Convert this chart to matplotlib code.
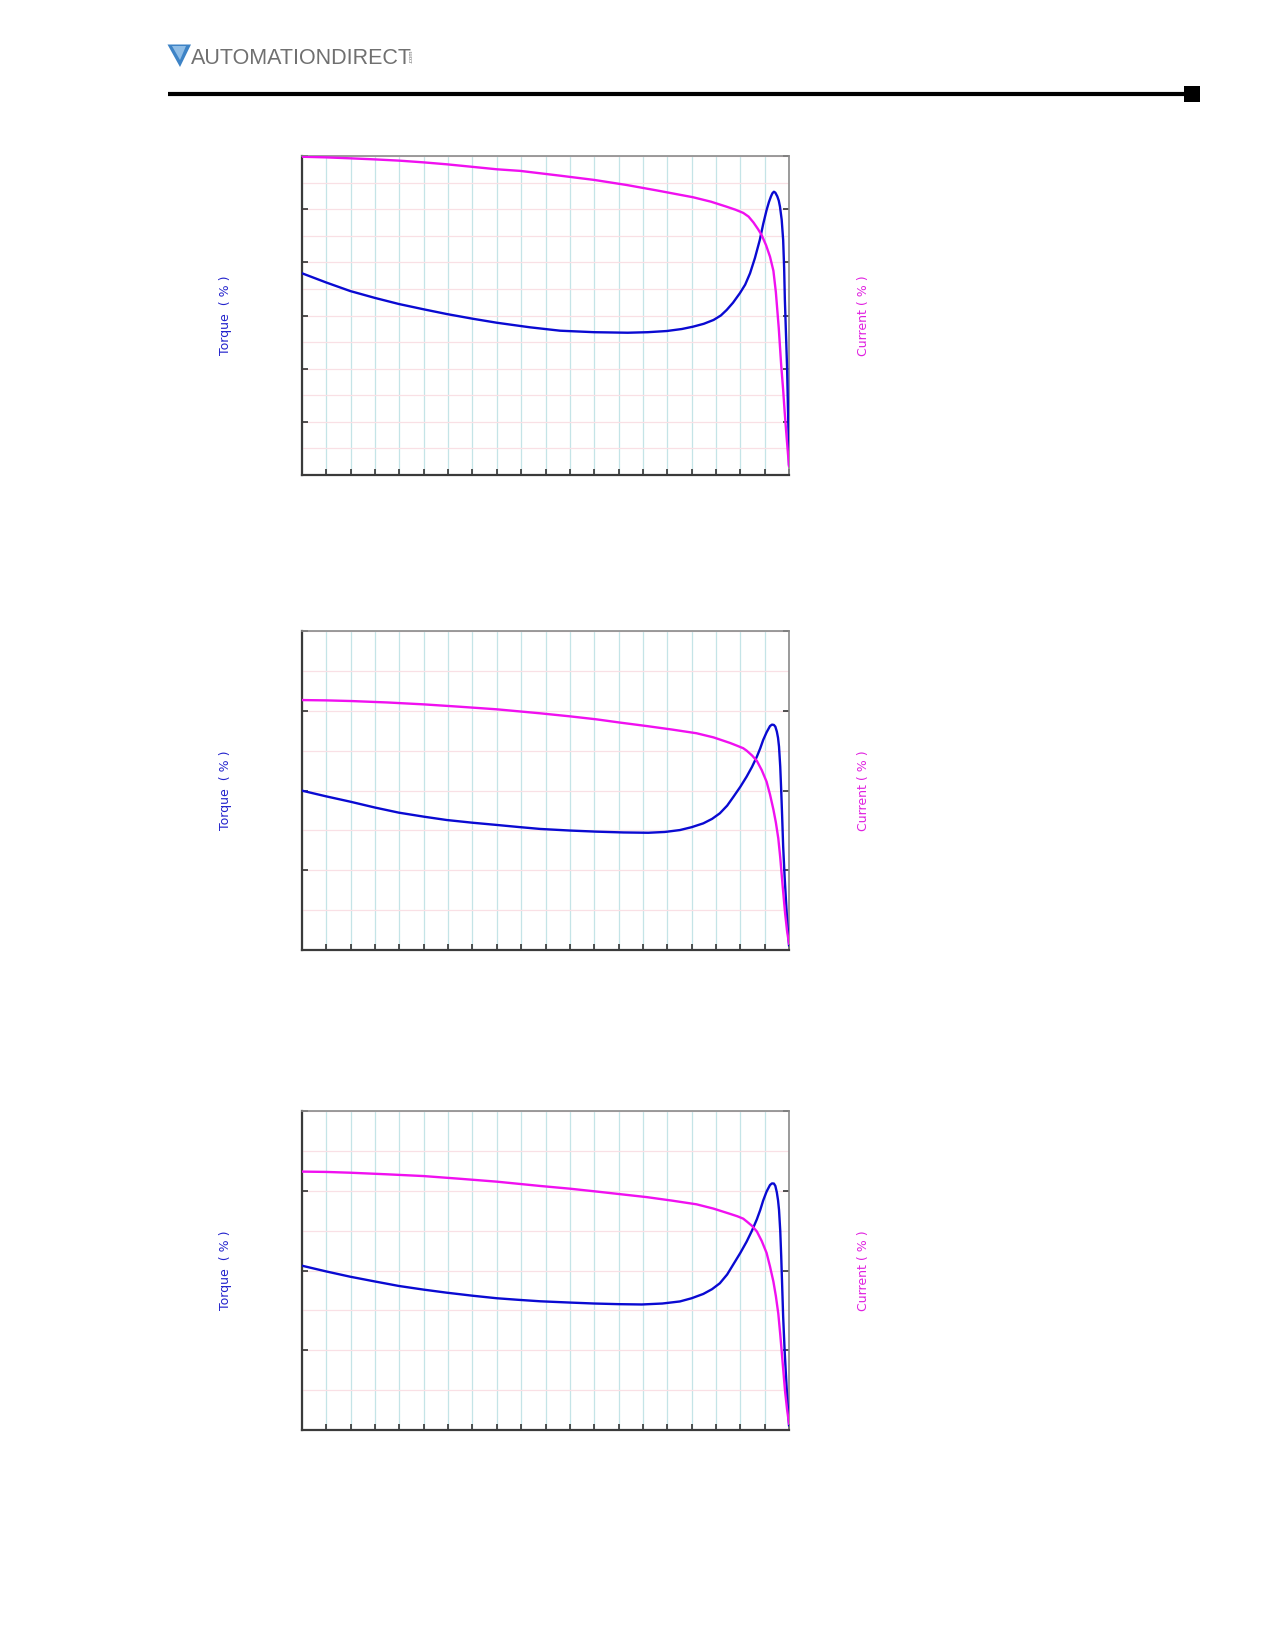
import matplotlib
matplotlib.use("Agg")
import matplotlib.pyplot as plt
from matplotlib.patches import Polygon, Rectangle
from matplotlib.lines import Line2D
import numpy as np

# ---------------- data (speed %, torque %, current %) ----------------
x1_t = [0, 5, 9.9, 15, 19.9, 25, 29.7, 35, 40, 46.8, 53, 60, 66.9, 71, 74.9, 78, 80.3, 82.5,
        84.5, 86, 87.2, 88.5, 89.9, 91.0, 92.0, 93.0, 94.0, 94.7, 95.4, 95.9, 96.3, 96.6,
        96.9, 97.2, 97.6, 97.9, 98.15, 98.5, 98.8, 99.0, 99.15, 99.4, 99.6, 99.8, 99.9, 100]
t1 = [189.7, 181.0, 173.0, 166.5, 160.8, 155.8, 151.4, 147.0, 143.2, 138.9, 135.7, 134.3, 133.8, 134.3,
      135.4, 137.3, 139.5, 142.2, 145.8, 150.0, 155.2, 162.0, 170.9, 179.0, 189.7, 204.0, 221.0, 236.0,
      249.2, 257.0, 262.0, 265.0, 266.4, 265.5, 262.0, 258.0, 252.3, 240.0, 221.0, 195.0, 165.0, 130.0,
      102.0, 60.0, 40.0, 10.0]
x1_c = [0, 5, 10, 15, 20.1, 25, 29.7, 35, 40, 44.8, 53, 60, 66.7, 73, 80.3, 84, 87.2, 89, 90.6,
        91.7, 92.7, 93.6, 94.4, 95.3, 96.1, 96.8, 97.3, 97.9, 98.4, 98.8, 99.1, 99.4, 99.7, 100]
c1 = [299.3, 298.7, 297.8, 296.8, 295.6, 294.0, 292.2, 289.8, 287.5, 286.0, 281.5, 277.5, 272.7, 267.5,
      261.2, 257.0, 252.3, 249.5, 246.5, 243.0, 237.5, 231.5, 225.5, 216.0, 205.3, 192.0, 172.0, 138.0,
      103.0, 80.0, 60.0, 42.0, 25.0, 8.5]

x2_t = [0, 5, 9.9, 15, 19.9, 25, 29.7, 35, 40, 44.5, 48.9, 55, 60.5, 66, 71.1, 74.5, 77.6, 80,
        82.4, 84.2, 85.8, 87.3, 88.6, 90, 91.3, 92.4, 93.4, 94.1, 94.7, 95.4, 96.1, 96.5, 96.9,
        97.2, 97.5, 97.75, 97.95, 98.2, 98.4, 98.6, 98.8, 99.1, 99.4, 99.7, 100]
t2 = [99.9, 96.3, 93.0, 89.3, 86.1, 83.6, 81.5, 79.8, 78.4, 77.1, 75.9, 74.9, 74.2, 73.7, 73.5, 74.0,
      75.2, 77.0, 79.4, 82.2, 85.7, 90.5, 96.1, 102.3, 108.7, 114.8, 121.2, 126.5, 131.7, 136.5, 140.4,
      141.3, 141.1, 140.0, 137.0, 133.0, 127.5, 115.0, 100.0, 83.0, 65.0, 46.0, 30.0, 15.0, 3.0]
x2_c = [0, 5, 10, 17.5, 25, 32.5, 40, 48.9, 55, 60.5, 65.5, 70.8, 76, 81.0, 84.5, 87.9, 89.4, 90.6,
        91.3, 92.4, 93.4, 94.4, 95.4, 96.1, 96.8, 97.3, 97.8, 98.2, 98.7, 99.2, 99.6, 100]
c2 = [156.7, 156.5, 156.1, 155.2, 154.0, 152.5, 150.9, 148.4, 146.5, 144.6, 142.5, 140.4, 138.2, 135.9,
      133.3, 129.8, 128.0, 126.5, 125.0, 122.0, 118.6, 112.8, 105.5, 97.5, 88.0, 80.0, 70.0, 58.0, 40.0,
      23.0, 12.0, 4.0]

x3_t = [0, 5, 9.9, 15, 19.9, 25, 29.7, 35, 40, 44.5, 48.9, 55, 60, 65, 69.8, 74, 77.6, 80, 82.4,
        84.2, 85.8, 87.3, 88.6, 90, 91.3, 92.4, 93.4, 94.1, 94.7, 95.4, 96.1, 96.5, 96.9, 97.2, 97.5,
        97.75, 97.95, 98.2, 98.4, 98.6, 98.8, 99.1, 99.4, 99.7, 100]
t3 = [103.0, 99.4, 96.1, 93.1, 90.3, 88.0, 86.1, 84.2, 82.6, 81.6, 80.7, 79.9, 79.3, 78.9, 78.7, 79.3,
      80.6, 82.6, 85.3, 88.3, 92.0, 97.5, 104.0, 111.0, 118.1, 125.0, 132.1, 138.0, 143.9, 149.5, 153.6,
      154.6, 154.5, 153.0, 149.0, 144.0, 138.0, 125.0, 109.0, 90.0, 71.0, 50.0, 33.0, 17.0, 3.0]
x3_c = [0, 5, 10, 17.5, 25, 32.5, 40, 48.9, 55, 60.5, 65.5, 70.8, 76, 81.0, 84.5, 87.9, 89.4, 90.6,
        91.3, 92.4, 93.4, 94.4, 95.4, 96.1, 96.8, 97.3, 97.8, 98.2, 98.7, 99.2, 99.6, 100]
c3 = [162.0, 161.8, 161.3, 160.3, 159.2, 157.5, 155.7, 153.0, 151.3, 149.5, 147.8, 146.0, 143.8, 141.5,
      138.8, 135.5, 134.0, 132.5, 130.8, 128.0, 124.5, 118.5, 111.0, 102.5, 93.0, 84.0, 73.0, 60.0, 42.0,
      24.0, 13.0, 4.0]

y_max = [300, 200, 200]
torque_label = "Torque  ( % )"
current_label = "Current ( % )"
brand = "AUTOMATIONDIRECT"

# ---------------- figure ----------------
W, H = 1275, 1650
fig = plt.figure(figsize=(W / 100, H / 100), dpi=100)
fig.patch.set_facecolor("white")

def fx(px):
    return px / W

def fy(py):
    return 1 - py / H

# header
over = fig.add_axes([0, 0, 1, 1])
over.set_xlim(0, W)
over.set_ylim(H, 0)
over.axis("off")
over.add_patch(Polygon([(167.5, 44.5), (191, 44.5), (180, 67)], closed=True,
                       facecolor="#3d83c6", edgecolor="none"))
over.add_patch(Polygon([(172, 46), (186, 46), (180, 60)], closed=True,
                       facecolor="#8fbde6", edgecolor="none"))
over.text(190.5, 64.5, brand, fontsize=15.5, family="Liberation Sans", color="#707070",
          ha="left", va="baseline")
over.text(411, 56, ".com", fontsize=4.5, family="Liberation Sans", color="#707070",
          rotation=90, ha="center", va="center")
over.add_line(Line2D([168, 1190], [93.7, 93.7], color="black", lw=3.0, solid_capstyle="butt"))
over.add_patch(Rectangle((1183.5, 85.5), 16, 16, facecolor="black", edgecolor="none"))

blue = "#0a0ad2"
mag = "#f010f0"
panels = [
    (156, 475, x1_t, t1, x1_c, c1),
    (631, 950, x2_t, t2, x2_c, c2),
    (1111, 1430, x3_t, t3, x3_c, c3),
]
left_px, right_px = 302, 789

for i, (top, bot, xt, tt, xc, cc) in enumerate(panels):
    ax = fig.add_axes([fx(left_px), fy(bot), fx(right_px - left_px), (bot - top) / H])
    ymax = y_max[i]
    ax.set_xlim(0, 100)
    ax.set_ylim(0, ymax)
    ax.set_xticks(np.arange(0, 101, 5))
    ax.set_yticks(np.arange(0, ymax + 1, 50))
    ax.set_yticks(np.arange(0, ymax + 1, 25), minor=True)
    ax.set_xticklabels([])
    ax.set_yticklabels([])
    ax.set_axisbelow(True)
    ax.xaxis.grid(True, color="#c4e4e7", lw=0.9)
    ax.yaxis.grid(True, which="both", color="#f9e0e5", lw=0.9)
    ax.tick_params(axis="both", which="major", direction="in", length=4, width=1.2,
                   color="#333333", right=True, top=False)
    ax.tick_params(axis="y", which="minor", length=0)
    for s in ("left", "bottom"):
        ax.spines[s].set_color("#3a3a3a")
        ax.spines[s].set_linewidth(1.6)
    for s in ("top", "right"):
        ax.spines[s].set_color("#8a8a8a")
        ax.spines[s].set_linewidth(1.2)
    ax.plot(xt, tt, color=blue, lw=1.7, solid_joinstyle="round", clip_on=True, zorder=3)
    ax.plot(xc, cc, color=mag, lw=1.7, solid_joinstyle="round", clip_on=True, zorder=3)

    cy = (top + bot) / 2
    fig.text(fx(225), fy(cy), torque_label, rotation=90, color="#2222cc", fontsize=9,
             ha="center", va="center", family="DejaVu Sans")
    fig.text(fx(863), fy(cy), current_label, rotation=90, color="#e020e0", fontsize=9,
             ha="center", va="center", family="DejaVu Sans")

fig.savefig("out.png", dpi=100, facecolor="white")
